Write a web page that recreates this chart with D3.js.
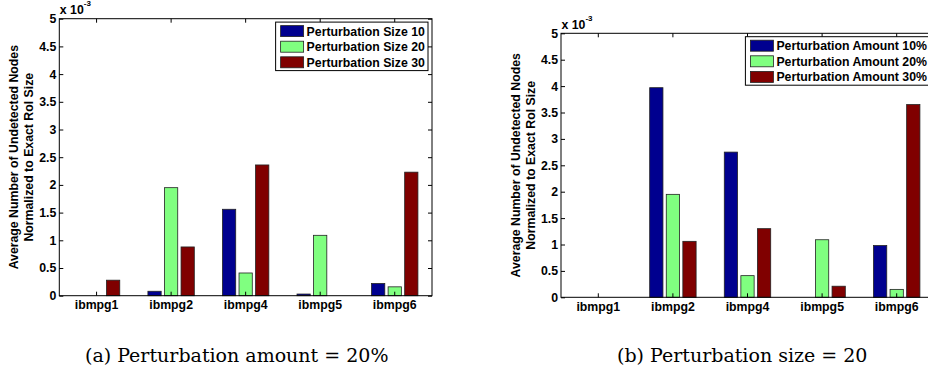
<!DOCTYPE html>
<html>
<head>
<meta charset="utf-8">
<title>Undetected nodes</title>
<script src="https://cdn.jsdelivr.net/npm/d3@7"></script>
<style>
body {
	margin: 0;
	padding: 0;
	background: #fff;
}
svg text {
	font-family: "Liberation Sans", Arial, Helvetica, sans-serif;
	font-weight: bold;
	fill: #000;
}
svg text.caption {
	font-family: "DejaVu Serif", serif;
	font-weight: normal;
}
</style>
</head>
<body>
<svg></svg>
<script>

/***********
 Data (values in units of 1e-3)
************/
var categories = ["ibmpg1", "ibmpg2", "ibmpg4", "ibmpg5", "ibmpg6"];
var yTicks = [0, 0.5, 1, 1.5, 2, 2.5, 3, 3.5, 4, 4.5, 5];

// (a) perturbation amount = 20%
var sizeNames = ["Perturbation Size 10", "Perturbation Size 20", "Perturbation Size 30"];
var size10 = [0, 0.08, 1.56, 0.03, 0.22];
var size20 = [0, 1.95, 0.41, 1.09, 0.16];
var size30 = [0.28, 0.88, 2.36, 0, 2.23];

// (b) perturbation size = 20
var amountNames = ["Perturbation Amount 10%", "Perturbation Amount 20%", "Perturbation Amount 30%"];
var amount10 = [0, 3.97, 2.75, 0, 0.98];
var amount20 = [0, 1.95, 0.41, 1.09, 0.15];
var amount30 = [0, 1.06, 1.30, 0.21, 3.65];

var captions = ["(a) Perturbation amount = 20%", "(b) Perturbation size = 20"];
var yLabel = ["Average Number of Undetected Nodes", "Normalized to Exact RoI Size"];

// matlab jet colours for 3 series
var colors = ["#00008f", "#80ff80", "#800000"];

var w = 928, h = 374;
var fs = "12.3px";
var svg = d3.select("svg")
	.attr("width", w)
	.attr("height", h);

var panels = [
	{left: 59.3, right: 432, top: 18.7, bottom: 295.7,
	 names: sizeNames, series: [size10, size20, size30],
	 caption: captions[0], capX: 85},
	{left: 561, right: 934, top: 33.3, bottom: 297.3,
	 names: amountNames, series: [amount10, amount20, amount30],
	 caption: captions[1], capX: 617}
];

var tick = 4;

panels.forEach(drawPanel);

/********************
 one bar chart
*********************/
function drawPanel(p) {
	var g = svg.append("g");

	var x = d3.scaleBand()
		.domain(categories)
		.range([p.left, p.right])
		.padding(0);
	var bw = x.bandwidth();
	// grouped bars like matlab: group width 2/3, bar width 0.8 of slot
	var xs = d3.scaleBand()
		.domain([0, 1, 2])
		.range([-bw / 3, bw / 3])
		.paddingInner(0.2)
		.paddingOuter(0.1);
	var y = d3.scaleLinear()
		.domain([0, 5])
		.range([p.bottom, p.top]);

	// bars
	var rows = [];
	p.series.forEach(function(vals, s) {
		vals.forEach(function(v, i) {
			rows.push({cat: categories[i], s: s, v: v});
		});
	});
	g.selectAll("rect.bar")
		.data(rows)
		.enter().append("rect")
		.attr("class", "bar")
		.attr("x", function(d) { return x(d.cat) + bw / 2 + xs(d.s); })
		.attr("y", function(d) { return y(d.v); })
		.attr("width", xs.bandwidth())
		.attr("height", function(d) { return y(0) - y(d.v); })
		.style("fill", function(d) { return colors[d.s]; })
		.style("stroke", "#222")
		.style("stroke-width", 0.8);

	// axes, ticks pointing in
	var ax = g.append("g")
		.attr("transform", "translate(0," + p.bottom + ")")
		.call(d3.axisBottom(x).tickSizeInner(-tick).tickSizeOuter(0).tickPadding(5));
	var ay = g.append("g")
		.attr("transform", "translate(" + p.left + ",0)")
		.call(d3.axisLeft(y).tickValues(yTicks).tickSizeInner(-tick).tickSizeOuter(0).tickPadding(3)
			.tickFormat(function(d) { return String(d); }));
	var at = g.append("g")
		.attr("transform", "translate(0," + p.top + ")")
		.call(d3.axisTop(x).tickSizeInner(-tick).tickSizeOuter(0).tickFormat(""));
	var ar = g.append("g")
		.attr("transform", "translate(" + p.right + ",0)")
		.call(d3.axisRight(y).tickValues(yTicks).tickSizeInner(-tick).tickSizeOuter(0).tickFormat(""));
	[ax, ay, at, ar].forEach(function(a) {
		a.select(".domain").remove();
		a.selectAll("line").style("stroke", "#000");
		a.selectAll("text")
			.style("font-size", fs)
			.style("fill", "#000");
		a.attr("font-family", null).attr("font-size", null);
	});

	// box
	g.append("rect")
		.attr("x", p.left)
		.attr("y", p.top)
		.attr("width", p.right - p.left)
		.attr("height", p.bottom - p.top)
		.style("fill", "none")
		.style("stroke", "#000")
		.style("stroke-width", 1);

	// exponent
	var ex = g.append("text")
		.attr("x", p.left + 0.5)
		.attr("y", p.top - 4.5)
		.style("font-size", fs);
	ex.append("tspan").text("x 10");
	ex.append("tspan")
		.attr("dy", -8)
		.style("font-size", "8px")
		.text("-3");

	// y label, two lines
	var midY = (p.top + p.bottom) / 2;
	yLabel.forEach(function(t, i) {
		g.append("text")
			.attr("transform", "translate(" + (p.left - 41 + i * 14.5) + "," + midY + ") rotate(-90)")
			.attr("text-anchor", "middle")
			.style("font-size", fs)
			.text(t);
	});

	// legend
	var lg = g.append("g");
	var rowH = 15.6;
	var items = lg.selectAll("g")
		.data(p.names)
		.enter().append("g")
		.attr("transform", function(d, i) { return "translate(5," + (9 + i * rowH) + ")"; });
	items.append("rect")
		.attr("x", 0)
		.attr("y", -5.5)
		.attr("width", 23)
		.attr("height", 11)
		.style("fill", function(d, i) { return colors[i]; })
		.style("stroke", "#222")
		.style("stroke-width", 0.8);
	items.append("text")
		.attr("x", 26)
		.attr("y", 4.4)
		.style("font-size", fs)
		.text(function(d) { return d; });
	var bb = lg.node().getBBox();
	var lw = bb.x + bb.width + 3;
	var lh = 48.5;
	lg.insert("rect", ":first-child")
		.attr("width", lw)
		.attr("height", lh)
		.style("fill", "#fff")
		.style("stroke", "#000")
		.style("stroke-width", 1);
	lg.attr("transform", "translate(" + (p.right - 4 - lw) + "," + (p.top + 3.4) + ")");

	// caption
	svg.append("text")
		.attr("class", "caption")
		.attr("x", p.capX)
		.attr("y", 362)
		.style("font-size", "19px")
		.text(p.caption);
}

</script>
</body>
</html>
